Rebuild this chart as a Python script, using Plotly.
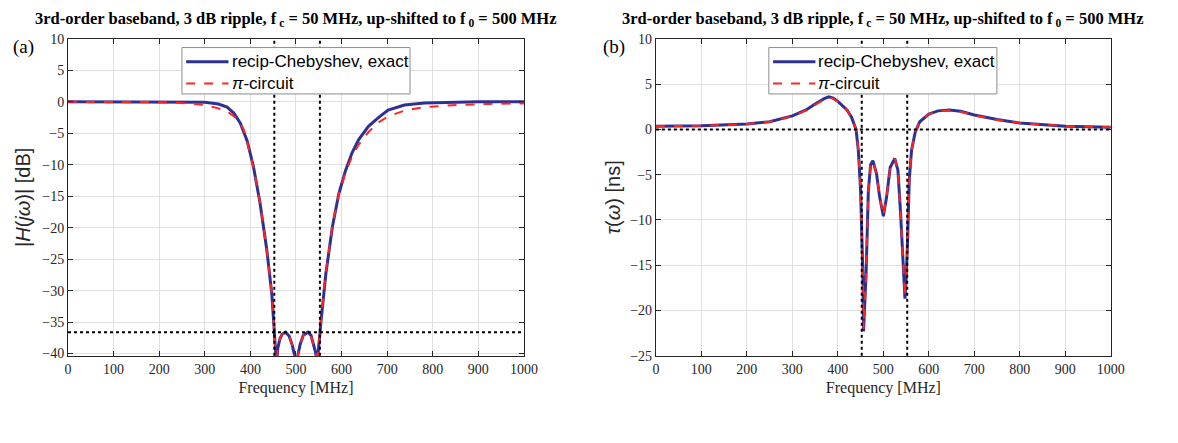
import plotly.graph_objects as go

# ---------------- data ----------------
# (a) magnitude |H(jw)| in dB
mag_f_exact = [0, 100, 200, 250, 300, 330, 349, 364, 378, 393, 407, 421, 436, 447, 452.5,
               455, 457.5, 460, 465, 470, 477, 485, 492, 497, 500.5, 504, 509, 516, 526,
               533, 539, 543, 546, 549, 552.5, 555, 565.6, 580, 594, 608.8, 623, 637.6,
               659, 680.8, 702, 738, 781.7, 853.7, 900, 1000]
mag_db_exact = [0, 0, 0, 0, -0.08, -0.35, -0.84, -1.8, -3.4, -6.2, -10.4, -16, -23.5, -30.5, -36.6,
                -39, -42, -39.2, -37.6, -36.9, -36.6, -37.2, -38.7, -40.3, -42, -40.3, -38.6, -37.1, -36.6,
                -37.1, -38.5, -39.8, -42, -39.3, -36.6, -34.8, -27.3, -19.8, -14.6, -10.9, -8.1, -6.0,
                -3.9, -2.5, -1.3, -0.5, -0.2, -0.05, 0, 0]

mag_f_pi = [0, 100, 200, 263, 299, 328, 349, 371, 385, 393, 407, 421, 436, 447, 452.5,
            455, 457.5, 460, 465, 470, 477, 485, 492, 497, 500.5, 504, 509, 516, 526,
            533, 539, 543, 546, 549, 552.5, 555, 565.6, 580, 594, 608.8, 623, 637.6,
            659, 680.8, 702, 738, 781.7, 853.7, 925, 1000]
mag_db_pi = [0, 0, -0.05, -0.25, -0.5, -1.0, -1.5, -2.7, -4.3, -6.4, -10.5, -16, -23.5, -30.5, -36.6,
             -39, -42, -39.2, -37.6, -36.9, -36.6, -37.2, -38.7, -40.3, -42, -40.3, -38.6, -37.1, -36.6,
             -37.1, -38.5, -39.8, -42, -39.3, -36.6, -34.6, -27.0, -19.6, -14.6, -11.2, -8.7, -6.8,
             -4.8, -3.3, -2.3, -1.4, -0.85, -0.5, -0.33, -0.25]

# (b) group delay tau(w) in ns
gd_f = [0, 100, 200, 250, 300, 330, 350, 370, 380, 390, 400, 420, 430, 440, 445, 450, 455, 456.5,
        458, 462, 467, 472, 477, 485, 492, 500, 507, 515, 525, 532, 538, 545, 547.5, 550, 553,
        557, 562, 570, 580, 600, 620, 645, 670, 700, 750, 800, 850, 900, 950, 1000]
gd_exact = [0.36, 0.4, 0.6, 0.85, 1.5, 2.15, 2.8, 3.4, 3.6, 3.45, 3.1, 2.15, 1.35, 0.0, -2.3, -6.8, -16, -22.3,
            -20.5, -16, -6.8, -3.9, -3.45, -4.9, -7.5, -9.6, -7.5, -4.2, -3.2, -4.5, -9.4, -16, -18.7, -16.5, -12.7,
            -5.5, -2.3, -0.3, 0.85, 1.7, 2.05, 2.15, 2.0, 1.6, 1.1, 0.7, 0.5, 0.36, 0.3, 0.23]
gd_pi = [0.36, 0.4, 0.6, 0.85, 1.45, 2.1, 2.7, 3.3, 3.5, 3.4, 3.05, 2.15, 1.35, 0.0, -2.3, -6.8, -16, -22.0,
         -20.3, -16, -6.8, -3.9, -3.5, -4.9, -7.5, -9.5, -7.5, -4.2, -3.25, -4.5, -9.4, -16, -18.5, -16.3, -12.7,
         -5.5, -2.3, -0.3, 0.85, 1.7, 2.0, 2.1, 1.95, 1.55, 1.05, 0.7, 0.5, 0.36, 0.3, 0.23]

band_edges = [452.49, 552.49]
stop_level_db = -36.6
gd_ref = 0

x_ticks = list(range(0, 1001, 100))
mag_ticks = list(range(-40, 11, 5))
gd_ticks = list(range(-25, 11, 5))

title_text = "3rd-order baseband, 3 dB ripple, f<sub> c</sub> = 50 MHz, up-shifted to f<sub> 0</sub> = 500 MHz"
name_exact = "recip-Chebyshev, exact"
name_pi = "<i>π</i>-circuit"

# ---------------- styling ----------------
BLUE = "rgb(46,49,146)"
RED = "rgb(255,36,36)"
W, H = 1178, 443
serif = "Liberation Serif"
sans = "Liberation Sans"

dom_y = [1 - 361 / H, 1 - 33 / H]
dom_x1 = [65 / W, 528 / W]
dom_x2 = [662 / W, 1124 / W]

fig = go.Figure()
fig.add_trace(go.Scatter(x=mag_f_exact, y=mag_db_exact, mode="lines", name=name_exact,
                         line=dict(color=BLUE, width=3), xaxis="x", yaxis="y", showlegend=False))
fig.add_trace(go.Scatter(x=mag_f_pi, y=mag_db_pi, mode="lines", name=name_pi,
                         line=dict(color=RED, width=2, dash="dash"), xaxis="x", yaxis="y", showlegend=False))
fig.add_trace(go.Scatter(x=gd_f, y=gd_exact, mode="lines", name=name_exact,
                         line=dict(color=BLUE, width=3), xaxis="x2", yaxis="y2", showlegend=False))
fig.add_trace(go.Scatter(x=gd_f, y=gd_pi, mode="lines", name=name_pi,
                         line=dict(color=RED, width=2, dash="dash"), xaxis="x2", yaxis="y2", showlegend=False))

dot = dict(color="black", width=2, dash="dot")
shapes = []
for xr, yr in (("x", "y"), ("x2", "y2")):
    for e in band_edges:
        shapes.append(dict(type="line", xref=xr, yref=yr + " domain", x0=e, x1=e, y0=0, y1=1, line=dot, layer="above"))
shapes.append(dict(type="line", xref="x domain", yref="y", x0=0, x1=1, y0=stop_level_db, y1=stop_level_db, line=dot, layer="above"))
shapes.append(dict(type="line", xref="x2 domain", yref="y2", x0=0, x1=1, y0=gd_ref, y1=gd_ref, line=dot, layer="above"))

annotations = []

# legend boxes (one per panel), drawn in pixel positions of the page
def add_legend(dx):
    px = lambda v: v / W
    py = lambda v: 1 - v / H
    shapes.append(dict(type="rect", xref="paper", yref="paper", x0=px(180.7 + dx), x1=px(412.3 + dx),
                       y0=py(90), y1=py(42), line=dict(color="#8c8c8c", width=1), fillcolor="white", layer="above"))
    shapes.append(dict(type="line", xref="paper", yref="paper", x0=px(185 + dx), x1=px(228 + dx),
                       y0=py(56.7), y1=py(56.7), line=dict(color=BLUE, width=3), layer="above"))
    shapes.append(dict(type="line", xref="paper", yref="paper", x0=px(185 + dx), x1=px(228 + dx),
                       y0=py(79.3), y1=py(79.3), line=dict(color=RED, width=2, dash="dash"), layer="above"))
    annotations.append(dict(text=name_exact, x=px(229 + dx), y=py(56.7), xref="paper", yref="paper", showarrow=False,
                            xanchor="left", yanchor="middle", font=dict(family=sans, size=17, color="black")))
    annotations.append(dict(text=name_pi, x=px(229 + dx), y=py(79.3), xref="paper", yref="paper", showarrow=False,
                            xanchor="left", yanchor="middle", font=dict(family=sans, size=17, color="black")))

add_legend(0)
add_legend(596)

axis_common = dict(showline=True, linecolor="#262626", linewidth=1, mirror="ticks", ticks="inside",
                   ticklen=5, tickcolor="#262626", showgrid=True, gridcolor="#e0e0e0", gridwidth=1,
                   zeroline=False, tickfont=dict(family=serif, size=14, color="#262626"))

xaxis_title = dict(text="Frequency [MHz]", font=dict(family=serif, size=16, color="#262626"), standoff=6)

for cx in ((dom_x1[0] + dom_x1[1]) / 2, (dom_x2[0] + dom_x2[1]) / 2):
    annotations.append(dict(text="<b>" + title_text + "</b>", x=cx, y=1 - 12 / H, xref="paper", yref="paper",
                            showarrow=False, font=dict(family=serif, size=16.5, color="black"),
                            xanchor="center", yanchor="middle"))
annotations.append(dict(text="(a)", x=7 / W, y=1 - 41 / H, xref="paper", yref="paper", showarrow=False,
                        font=dict(family=serif, size=19, color="black"), xanchor="left", yanchor="middle"))
annotations.append(dict(text="(b)", x=606 / W, y=1 - 41 / H, xref="paper", yref="paper", showarrow=False,
                        font=dict(family=serif, size=19, color="black"), xanchor="left", yanchor="middle"))

fig.update_layout(
    width=W, height=H, margin=dict(l=0, r=0, t=0, b=0),
    paper_bgcolor="white", plot_bgcolor="white", showlegend=False,
    xaxis=dict(domain=dom_x1, range=[0, 1000], tickvals=x_ticks, anchor="y", title=xaxis_title, **axis_common),
    yaxis=dict(domain=dom_y, range=[-40.35, 10], tickvals=mag_ticks, anchor="x",
               title=dict(text="|<i>H</i>(<i>jω</i>)| [dB]", font=dict(family=sans, size=20, color="#262626"), standoff=6),
               **axis_common),
    xaxis2=dict(domain=dom_x2, range=[0, 1000], tickvals=x_ticks, anchor="y2", title=xaxis_title, **axis_common),
    yaxis2=dict(domain=dom_y, range=[-25, 10], tickvals=gd_ticks, anchor="x2",
                title=dict(text="<i>τ</i>(<i>ω</i>) [ns]", font=dict(family=sans, size=20, color="#262626"), standoff=4),
                **axis_common),
    shapes=shapes,
    annotations=annotations,
)

fig.write_html("out.html")
